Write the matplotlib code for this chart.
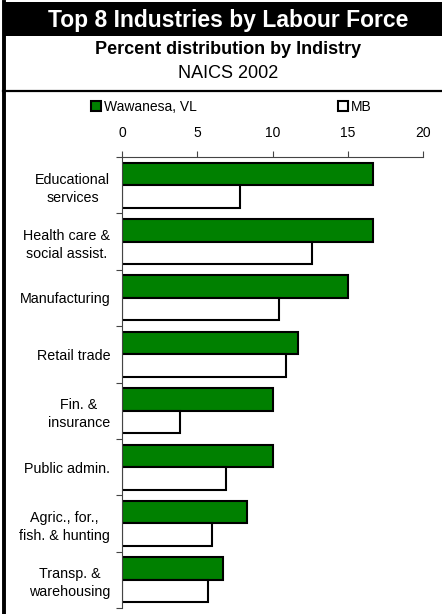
import matplotlib
matplotlib.use('Agg')
import matplotlib.pyplot as plt
from matplotlib.patches import Rectangle
from matplotlib.lines import Line2D
import numpy as np

plt.rcParams['font.family'] = ['Liberation Sans', 'DejaVu Sans']

# data
industries = ['Educational\nservices', 'Health care &\nsocial assist.', 'Manufacturing',
              'Retail trade', 'Fin. &\ninsurance', 'Public admin.',
              'Agric., for.,\nfish. & hunting', 'Transp. &\nwarehousing']
wawanesa = [16.7, 16.7, 15.0, 11.7, 10.0, 10.0, 8.3, 6.7]
mb = [7.85, 12.6, 10.4, 10.9, 3.85, 6.9, 6.0, 5.7]
xticks = [0, 5, 10, 15, 20]

W, H = 442, 614
fig = plt.figure(figsize=(W / 100, H / 100), dpi=100)

def fx(px):
    return px / W

def fy(py):
    return 1 - py / H

# header band and frame lines
fig.add_artist(Rectangle((fx(3), fy(36)), fx(W) - fx(3), fy(2) - fy(36),
                         transform=fig.transFigure, facecolor='black', edgecolor='none'))
fig.add_artist(Line2D([fx(3), 1], [fy(91), fy(91)], transform=fig.transFigure,
                      color='black', lw=1.6))
fig.add_artist(Line2D([fx(4), fx(4)], [0, fy(2)], transform=fig.transFigure,
                      color='black', lw=2.8))

fig.text(fx(228), fy(20), 'Top 8 Industries by Labour Force', color='white',
         fontsize=16.5, fontweight='bold', ha='center', va='center')
fig.text(fx(228), fy(49), 'Percent distribution by Indistry', color='black',
         fontsize=13, fontweight='bold', ha='center', va='center')
fig.text(fx(228), fy(74), 'NAICS 2002', color='black',
         fontsize=13, ha='center', va='center')

ax = fig.add_axes([fx(122), fy(608), fx(423) - fx(122), fy(157) - fy(608)])

y = np.arange(len(industries))
h = 0.4
b1 = ax.barh(y - h / 2, wawanesa, height=h, color='#008000', edgecolor='black',
             linewidth=1.5, label='Wawanesa, VL')
b2 = ax.barh(y + h / 2, mb, height=h, color='white', edgecolor='black',
             linewidth=1.5, label='MB')

ax.set_xlim(0, 20)
ax.set_ylim(len(industries) - 0.5, -0.5)
ax.xaxis.tick_top()
ax.set_xticks(xticks)
ax.set_xticklabels([str(t) for t in xticks], fontsize=10)
ax.set_yticks(np.arange(len(industries) + 1) - 0.5)
ax.set_yticklabels([])
ax.set_yticks(y, minor=True)
ax.set_yticklabels(industries, minor=True, fontsize=10.3, multialignment='center',
                   linespacing=1.35)
ax.tick_params(axis='y', which='minor', length=0, pad=8.5)
ax.tick_params(axis='y', which='major', length=4, color='#444444')
ax.tick_params(axis='x', length=4, pad=8, color='#444444')
for s in ['right', 'bottom']:
    ax.spines[s].set_visible(False)
for s in ['top', 'left']:
    ax.spines[s].set_color('#444444')
    ax.spines[s].set_linewidth(0.8)

leg1 = fig.legend(handles=[b1], loc='center left', bbox_to_anchor=(fx(91), fy(107)),
                  frameon=False, fontsize=10, handlelength=0.7, handleheight=0.7,
                  handletextpad=0.2, borderpad=0, borderaxespad=0)
leg2 = fig.legend(handles=[b2], loc='center left', bbox_to_anchor=(fx(338), fy(107)),
                  frameon=False, fontsize=10, handlelength=0.7, handleheight=0.7,
                  handletextpad=0.2, borderpad=0, borderaxespad=0)

fig.savefig('out.png', dpi=100)
